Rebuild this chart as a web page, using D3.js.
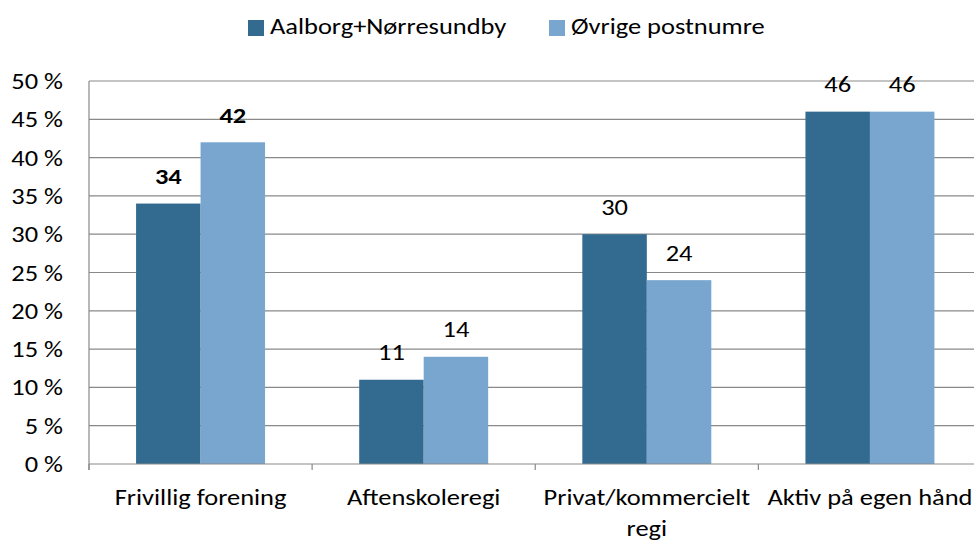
<!DOCTYPE html>
<html><head><meta charset="utf-8">
<script src="https://cdn.jsdelivr.net/npm/d3@7"></script>
<style>body{margin:0;background:#fff}svg text{font-family:Carlito,Calibri,sans-serif;fill:#000}</style>
</head><body><svg id="chart" width="974" height="542"></svg>
<script>
const categories = ["Frivillig forening", "Aftenskoleregi", "Privat/kommercielt regi", "Aktiv på egen hånd"];
const seriesNames = ["Aalborg+Nørresundby", "Øvrige postnumre"];
const aalborgValues = [34, 11, 30, 46];
const oevrigeValues = [42, 14, 24, 46];
const yTicks = [0, 5, 10, 15, 20, 25, 30, 35, 40, 45, 50];
const boldLabels = [true, false, false, false];
const colors = ["#336a90", "#78a6cf"];

const FS = 23, SX = 1.15;
const svg = d3.select("#chart");
const plotLeft = 89, plotRight = 981.5, plotTop = 81, plotBottom = 464;

const x0 = d3.scaleBand().domain(categories).range([plotLeft, plotRight]).padding(0);
const x1 = d3.scaleBand().domain(seriesNames).range([0, x0.bandwidth()]).paddingInner(0).paddingOuter(0.73);
const y = d3.scaleLinear().domain([0, 50]).range([plotBottom, plotTop]);

// gridlines
svg.append("g").selectAll("line").data(yTicks.filter(d => d > 0)).join("line")
  .attr("x1", plotLeft).attr("x2", plotRight).attr("y1", d => y(d)).attr("y2", d => y(d))
  .attr("stroke", "#898989").attr("stroke-width", 1.2);

// y axis
const yAxis = svg.append("g").attr("transform", `translate(${plotLeft},0)`)
  .call(d3.axisLeft(y).tickValues(yTicks).tickSize(0).tickPadding(0).tickFormat(d => d + " %"));
yAxis.select(".domain").remove();
yAxis.selectAll("text").style("font-size", FS + "px").attr("x", -26 / SX).attr("dy", "0.33em")
  .attr("transform", `scale(${SX},1)`);
svg.append("line").attr("x1", plotLeft).attr("x2", plotLeft).attr("y1", plotTop).attr("y2", plotBottom + 6)
  .attr("stroke", "#898989").attr("stroke-width", 1.2);

// bars
const data = categories.map((c, i) => ({cat: c, vals: [aalborgValues[i], oevrigeValues[i]], bold: boldLabels[i]}));
const groups = svg.append("g").selectAll("g").data(data).join("g")
  .attr("transform", d => `translate(${x0(d.cat)},0)`);
groups.selectAll("rect").data(d => d.vals.map((v, j) => ({s: seriesNames[j], v, j}))).join("rect")
  .attr("x", d => x1(d.s)).attr("width", x1.bandwidth())
  .attr("y", d => y(d.v)).attr("height", d => y(0) - y(d.v))
  .attr("fill", d => colors[d.j]);
groups.each(function(d) {
  d3.select(this).selectAll("text.lbl").data(d.vals.map((v, j) => ({s: seriesNames[j], v}))).join("text")
    .attr("class", "lbl")
    .attr("transform", e => `translate(${x1(e.s) + x1.bandwidth() / 2},${y(e.v) - 19.5}) scale(${SX},1)`)
    .attr("text-anchor", "middle").style("font-size", FS + "px")
    .style("font-weight", d.bold ? "bold" : "normal").text(e => e.v);
});

// x axis
const xAxisG = svg.append("g");
xAxisG.append("line").attr("x1", plotLeft).attr("x2", plotRight).attr("y1", plotBottom).attr("y2", plotBottom)
  .attr("stroke", "#898989").attr("stroke-width", 1.2);
const tickPos = d3.range(categories.length + 1).map(i => plotLeft + i * x0.step());
xAxisG.selectAll("line.tk").data(tickPos).join("line").attr("class", "tk")
  .attr("x1", d => d).attr("x2", d => d).attr("y1", plotBottom).attr("y2", plotBottom + 6)
  .attr("stroke", "#898989").attr("stroke-width", 1.2);
const xLabels = {"Privat/kommercielt regi": ["Privat/kommercielt", "regi"]};
categories.forEach(c => {
  const lines = xLabels[c] || [c];
  lines.forEach((ln, k) => {
    xAxisG.append("text")
      .attr("transform", `translate(${x0(c) + x0.bandwidth() / 2},${505 + k * 31}) scale(${SX},1)`)
      .attr("text-anchor", "middle").style("font-size", FS + "px").text(ln);
  });
});

// legend
const legendX = [248, 549];
const lg = svg.append("g").selectAll("g").data(seriesNames).join("g")
  .attr("transform", (d, i) => `translate(${legendX[i]},20)`);
lg.append("rect").attr("width", 16).attr("height", 16).attr("fill", (d, i) => colors[i]);
lg.append("text").attr("transform", `translate(22,13.5) scale(${SX},1)`).style("font-size", FS + "px").text(d => d);
</script></body></html>
